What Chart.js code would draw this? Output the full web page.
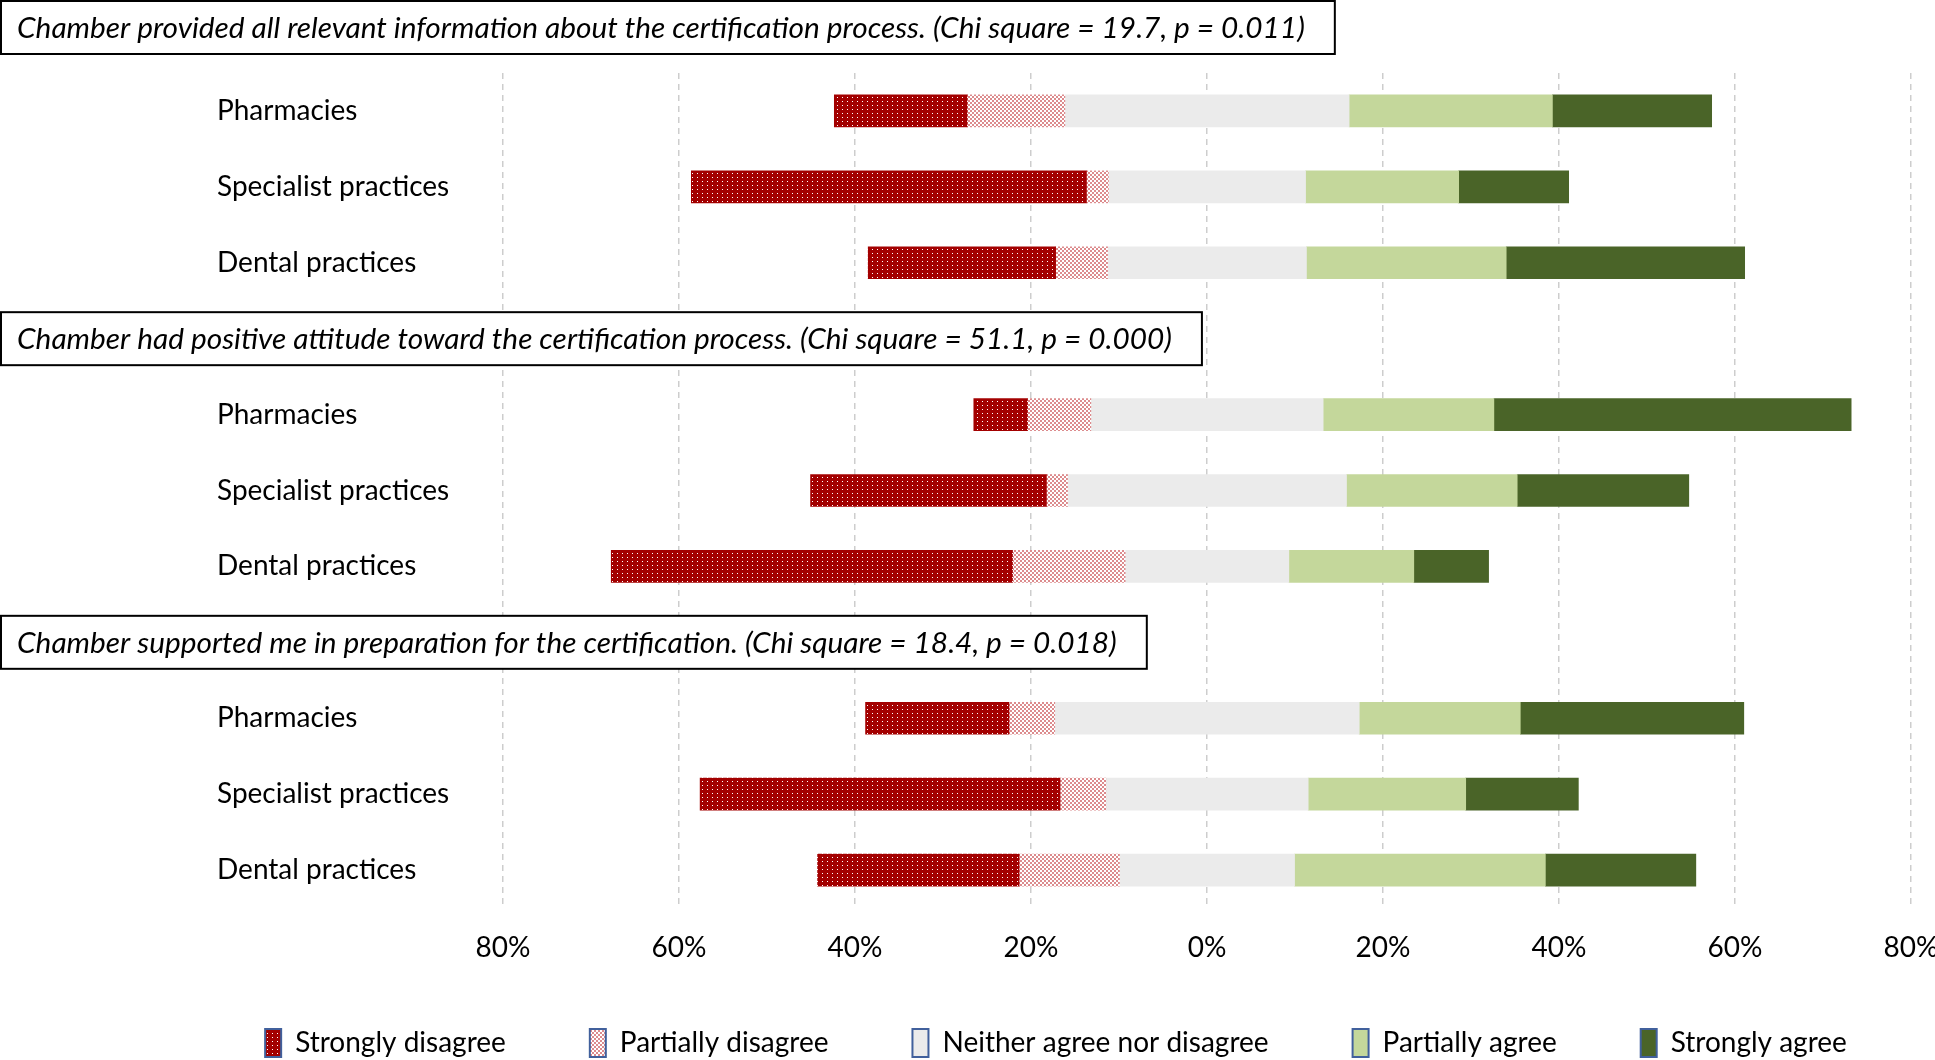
<!DOCTYPE html>
<html>
<head>
<meta charset="utf-8">
<script src="https://cdn.jsdelivr.net/npm/chart.js@4.4.1/dist/chart.umd.min.js"></script>
<style>
  html, body { margin: 0; padding: 0; background: #fff; }
  #wrap { width: 1935px; height: 1060px; position: relative; }
</style>
</head>
<body>
<div id="wrap"><canvas id="likert"></canvas></div>
<script>
const questions = [
  'Chamber provided all relevant information about the certification process. (Chi square = 19.7, p = 0.011)',
  'Chamber had positive attitude toward the certification process. (Chi square = 51.1, p = 0.000)',
  'Chamber supported me in preparation for the certification. (Chi square = 18.4, p = 0.018)'
];
const groups = ['Pharmacies', 'Specialist practices', 'Dental practices'];
const responses = ['Strongly disagree', 'Partially disagree', 'Neither agree nor disagree', 'Partially agree', 'Strongly agree'];

// % of answers per bar: question 1 (pharm, spec, dent), question 2 (...), question 3 (...)
const stronglyDisagree  = [15.1, 44.9, 21.3,  6.1, 26.8, 45.6, 16.3, 40.9, 22.9];
const partiallyDisagree = [11.1,  2.5,  5.9,  7.2,  2.4, 12.8,  5.2,  5.2, 11.4];
const neither           = [32.3, 22.4, 22.6, 26.4, 31.7, 18.6, 34.6, 23.0, 19.9];
const partiallyAgree    = [23.1, 17.4, 22.7, 19.4, 19.4, 14.2, 18.3, 17.9, 28.5];
const stronglyAgree     = [18.1, 12.5, 27.1, 40.6, 19.5,  8.5, 25.4, 12.8, 17.1];

const axisMin = -80, axisMax = 80, axisStep = 20;

const FONT = 'Lato';

// rows: blank row in front of question 2 and 3 (their title boxes sit there)
const rowLabels = [];
const rowBar = [];
questions.forEach((q, qi) => {
  if (qi > 0) { rowLabels.push(''); rowBar.push(null); }
  groups.forEach((g, gi) => { rowLabels.push(g); rowBar.push(qi * groups.length + gi); });
});

// diverging layout: neutral split around 0
function ranges(part) {
  return rowBar.map(i => {
    if (i === null) return null;
    const n = neither[i] / 2, pd = partiallyDisagree[i], sd = stronglyDisagree[i], pa = partiallyAgree[i], sa = stronglyAgree[i];
    switch (part) {
      case 0: return [-(n + pd + sd), -(n + pd)];
      case 1: return [-(n + pd), -n];
      case 2: return [-n, n];
      case 3: return [n, n + pa];
      default: return [n + pa, n + pa + sa];
    }
  });
}

function makePattern(w, h, draw) {
  const c = document.createElement('canvas');
  c.width = w; c.height = h;
  draw(c.getContext('2d'));
  return document.createElement('canvas').getContext('2d').createPattern(c, 'repeat');
}

const sdFill = makePattern(5, 4, g => {
  g.fillStyle = '#a30000'; g.fillRect(0, 0, 5, 4);
  g.fillStyle = '#ffffff'; g.fillRect(2, 1, 1, 1);
});
const pdFill = makePattern(4, 4, g => {
  g.fillStyle = '#ffffff'; g.fillRect(0, 0, 4, 4);
  g.fillStyle = '#dc8b8d'; g.fillRect(0, 0, 2, 2); g.fillRect(2, 2, 2, 2);
});
const fills = [sdFill, pdFill, '#ebebeb', '#c4d79b', '#4a6428'];

const titleBoxes = {
  id: 'titleBoxes',
  afterDatasetsDraw(chart) {
    const { ctx, scales: { y } } = chart;
    ctx.save();
    ctx.font = 'italic 29.8px ' + FONT;
    ctx.textBaseline = 'middle';
    questions.forEach((q, i) => {
      const h = 53;
      // first box sits on the canvas top, the others on their blank row
      const top = i === 0 ? 1 : y.getPixelForValue(i * (groups.length + 1) - 1) - h / 2;
      const w = ctx.measureText(q).width + 46;
      ctx.fillStyle = '#fff';
      ctx.fillRect(1, top, w, h);
      ctx.strokeStyle = '#000';
      ctx.lineWidth = 2;
      ctx.strokeRect(1, top, w, h);
      ctx.fillStyle = '#000';
      ctx.fillText(q, 17, top + h / 2 + 1);
    });
    ctx.restore();
  }
};

// legend: wide gaps between items on one line, item row lifted a bit, centre nudged left
const legendTweak = {
  id: 'legendTweak',
  beforeLayout(chart) {
    const lg = chart.legend;
    if (lg && !lg._tweaked) {
      const fit = lg.fit;
      lg.fit = function () { this.maxWidth = 1935; fit.call(this); this.height = 96; };
      lg._tweaked = true;
    }
  },
  afterLayout(chart) {
    chart.legend.left -= 40;
    chart.legend.top -= 19;
  }
};

new Chart(document.getElementById('likert'), {
  type: 'bar',
  data: {
    labels: rowLabels,
    datasets: responses.map((r, k) => ({
      label: r,
      data: ranges(k),
      backgroundColor: fills[k],
      borderWidth: 0,
      barThickness: 32,
      grouped: false
    }))
  },
  options: {
    indexAxis: 'y',
    responsive: true,
    maintainAspectRatio: false,
    animation: false,
    devicePixelRatio: 1,
    layout: { padding: { left: 217, top: 73 } },
    scales: {
      x: {
        min: axisMin,
        max: axisMax,
        grid: { color: '#cdcdcd', lineWidth: 1.5, drawTicks: false },
        border: { display: false, dash: [6, 5] },
        ticks: {
          stepSize: axisStep,
          padding: 23,
          maxRotation: 0,
          autoSkip: false,
          color: '#000',
          font: { family: FONT, size: 28 },
          callback: v => Math.abs(v) + '%'
        },
        afterFit: s => { s.height = 56; s.paddingRight = 24; s.paddingLeft = 0; }
      },
      y: {
        grid: { display: false },
        border: { display: false },
        ticks: {
          crossAlign: 'far',
          autoSkip: false,
          color: '#000',
          font: { family: FONT, size: 28 }
        },
        afterFit: s => { s.width = 286; }
      }
    },
    plugins: {
      tooltip: { enabled: false },
      legend: {
        position: 'bottom',
        labels: {
          color: '#000',
          font: { family: FONT, size: 28 },
          boxWidth: 16,
          boxHeight: 28,
          padding: 84,
          generateLabels(chart) {
            return Chart.defaults.plugins.legend.labels.generateLabels(chart).map(it => {
              it.strokeStyle = '#41609c';
              it.lineWidth = 2;
              return it;
            });
          }
        }
      }
    }
  },
  plugins: [titleBoxes, legendTweak]
});
</script>
</body>
</html>
